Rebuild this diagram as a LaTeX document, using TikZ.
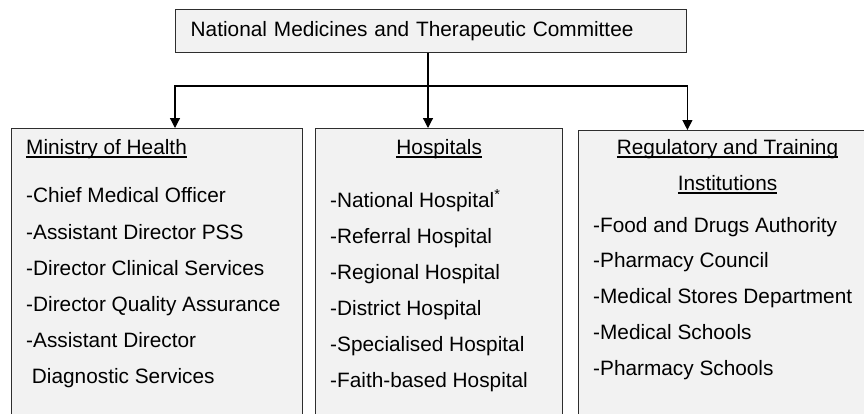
\documentclass[tikz,border=0pt]{standalone}
\usepackage{fontspec}
\setmainfont{Liberation Sans}
\usetikzlibrary{arrows.meta}
\usetikzlibrary{calc}

\definecolor{boxfill}{HTML}{F2F2F2}
\definecolor{boxline}{HTML}{2E2E2E}
\newcommand{\hdline}[1]{\setbox0\hbox{#1}\rlap{\rule[-3.6pt]{\wd0}{1.3pt}}\box0}

\tikzset{
  orgbox/.style={draw=boxline,line width=1.4pt,fill=boxfill,inner sep=0pt,anchor=north west},
  item/.style={anchor=base west,inner sep=0pt},
  head/.style={anchor=base,inner sep=0pt},
  link/.style={line width=1.2pt,-{Triangle[width=10pt,length=10pt]}}
}

\begin{document}
\begin{tikzpicture}[x=1pt,y=-1pt,font=\fontsize{20.8}{24}\selectfont]
\useasboundingbox (0,0) rectangle (864,413);
\clip (0,0) rectangle (864,413);
\node[orgbox,minimum width=511pt,minimum height=43pt,text width=481pt,align=left] (nmtc) at (175,9) {National Medicines and Therapeutic Committee};
\node[orgbox,minimum width=291pt,minimum height=320pt] (moh) at (11,128) {};
\node[orgbox,minimum width=247pt,minimum height=320pt] (hosp) at (315,128) {};
\node[orgbox,minimum width=300pt,minimum height=320pt] (reg) at (578,130) {};
\coordinate (trunk) at (428,86);
\draw[link] (trunk |- nmtc.south) -- (trunk |- hosp.north);
\draw[link] (trunk) -| (nmtc.west |- moh.north);
\draw[link] (trunk) -| (nmtc.east |- reg.north);
% ministry
\node[item] (mohh) at (26,154) {\hdline{Ministry of Health}};
\node[item] (moh1) at (26,202) {-Chief Medical Officer};
\node[item] (moh2) at (26,239) {-Assistant Director PSS};
\node[item] (moh3) at (26,275) {-Director Clinical Services};
\node[item] (moh4) at (26,311) {-Director Quality Assurance};
\node[item] (moh5) at (26,347) {-Assistant Director};
\node[item] (moh6) at (26,383) {\ Diagnostic Services};
% hospitals
\node[head] (hosph) at (hosp.north |- 0,154) {\hdline{Hospitals}};
\node[item] (hosp1) at (330,207) {-National Hospital\textsuperscript{*}};
\node[item] (hosp2) at (330,243) {-Referral Hospital};
\node[item] (hosp3) at (330,279) {-Regional Hospital};
\node[item] (hosp4) at (330,315) {-District Hospital};
\node[item] (hosp5) at (330,351) {-Specialised Hospital};
\node[item] (hosp6) at (330,387) {-Faith-based Hospital};
% regulatory
\node[head] (regh) at (727.5,154) {\hdline{Regulatory and Training}};
\node[head] (regh2) at (727.5,190) {\hdline{Institutions}};
\node[item] (reg1) at (593,232) {-Food and Drugs Authority};
\node[item] (reg2) at (593,267) {-Pharmacy Council};
\node[item] (reg3) at (593,303) {-Medical Stores Department};
\node[item] (reg4) at (593,339) {-Medical Schools};
\node[item] (reg5) at (593,375) {-Pharmacy Schools};
\end{tikzpicture}
\end{document}
